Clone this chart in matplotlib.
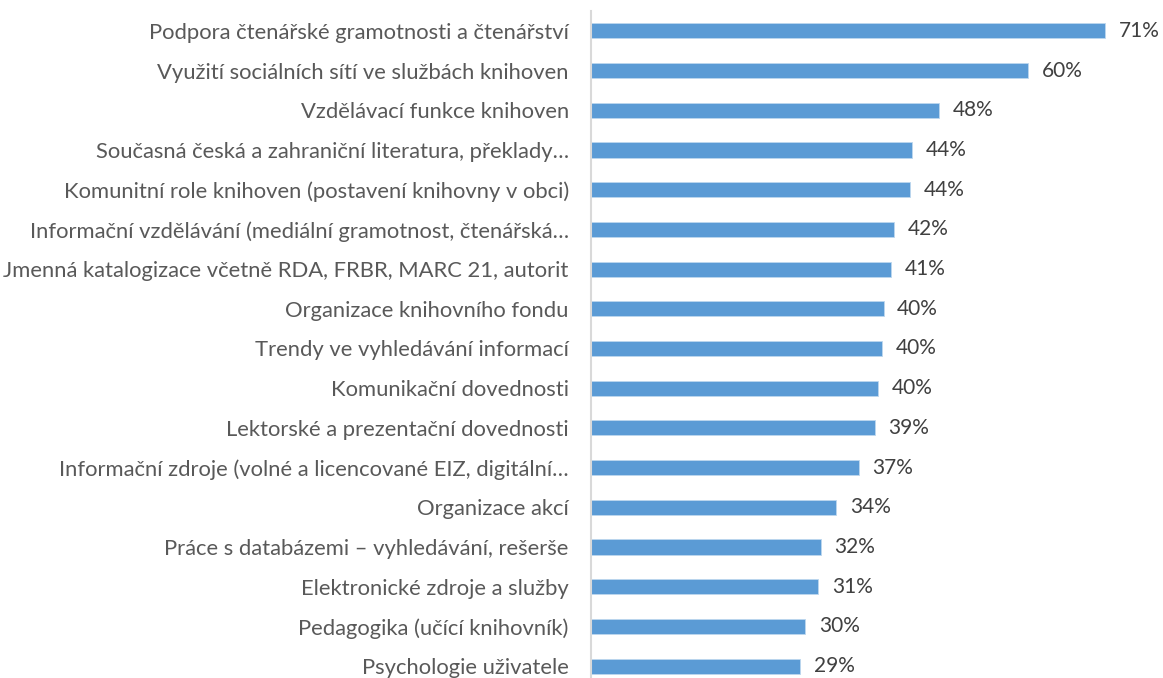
import matplotlib.pyplot as plt

# Data
categories = [
    "Podpora čtenářské gramotnosti a čtenářství",
    "Využití sociálních sítí ve službách knihoven",
    "Vzdělávací funkce knihoven",
    "Současná česká a zahraniční literatura, překlady…",
    "Komunitní role knihoven (postavení knihovny v obci)",
    "Informační vzdělávání (mediální gramotnost, čtenářská…",
    "Jmenná katalogizace včetně RDA, FRBR, MARC 21, autorit",
    "Organizace knihovního fondu",
    "Trendy ve vyhledávání informací",
    "Komunikační dovednosti",
    "Lektorské a prezentační dovednosti",
    "Informační zdroje (volné a licencované EIZ, digitální…",
    "Organizace akcí",
    "Práce s databázemi – vyhledávání, rešerše",
    "Elektronické zdroje a služby",
    "Pedagogika (učící knihovník)",
    "Psychologie uživatele",
]
values = [71.0, 60.4, 48.0, 44.4, 44.0, 41.8, 41.4, 40.4, 40.2, 39.7,
          39.2, 37.0, 33.9, 31.7, 31.4, 29.6, 28.9]

plt.rcParams['font.family'] = ['Lato', 'DejaVu Sans']

fig = plt.figure(figsize=(11.63, 6.78), dpi=100)
ax = fig.add_axes([591 / 1163, 0, 1 - 591 / 1163, 667 / 678])

ypos = list(range(len(categories)))
ax.barh(ypos, values, height=0.38, color='#5b9bd5', edgecolor='#bdd7ee', linewidth=0.6)

for y, v in zip(ypos, values):
    ax.text(v + 1.9, y, f"{round(v)}%", va='center', ha='left',
            fontsize=15, color='#404040')

ax.set_yticks(ypos)
ax.set_yticklabels(categories, fontsize=15.8, color='#595959')
ax.tick_params(axis='y', length=0, pad=16)
ax.set_xticks([])
ax.set_xlim(0, 79)
ax.set_ylim(16.3, -0.5)

for s in ['top', 'right', 'bottom']:
    ax.spines[s].set_visible(False)
ax.spines['left'].set_color('#d9d9d9')
ax.spines['left'].set_linewidth(1.5)

fig.savefig("out.png", dpi=100)
